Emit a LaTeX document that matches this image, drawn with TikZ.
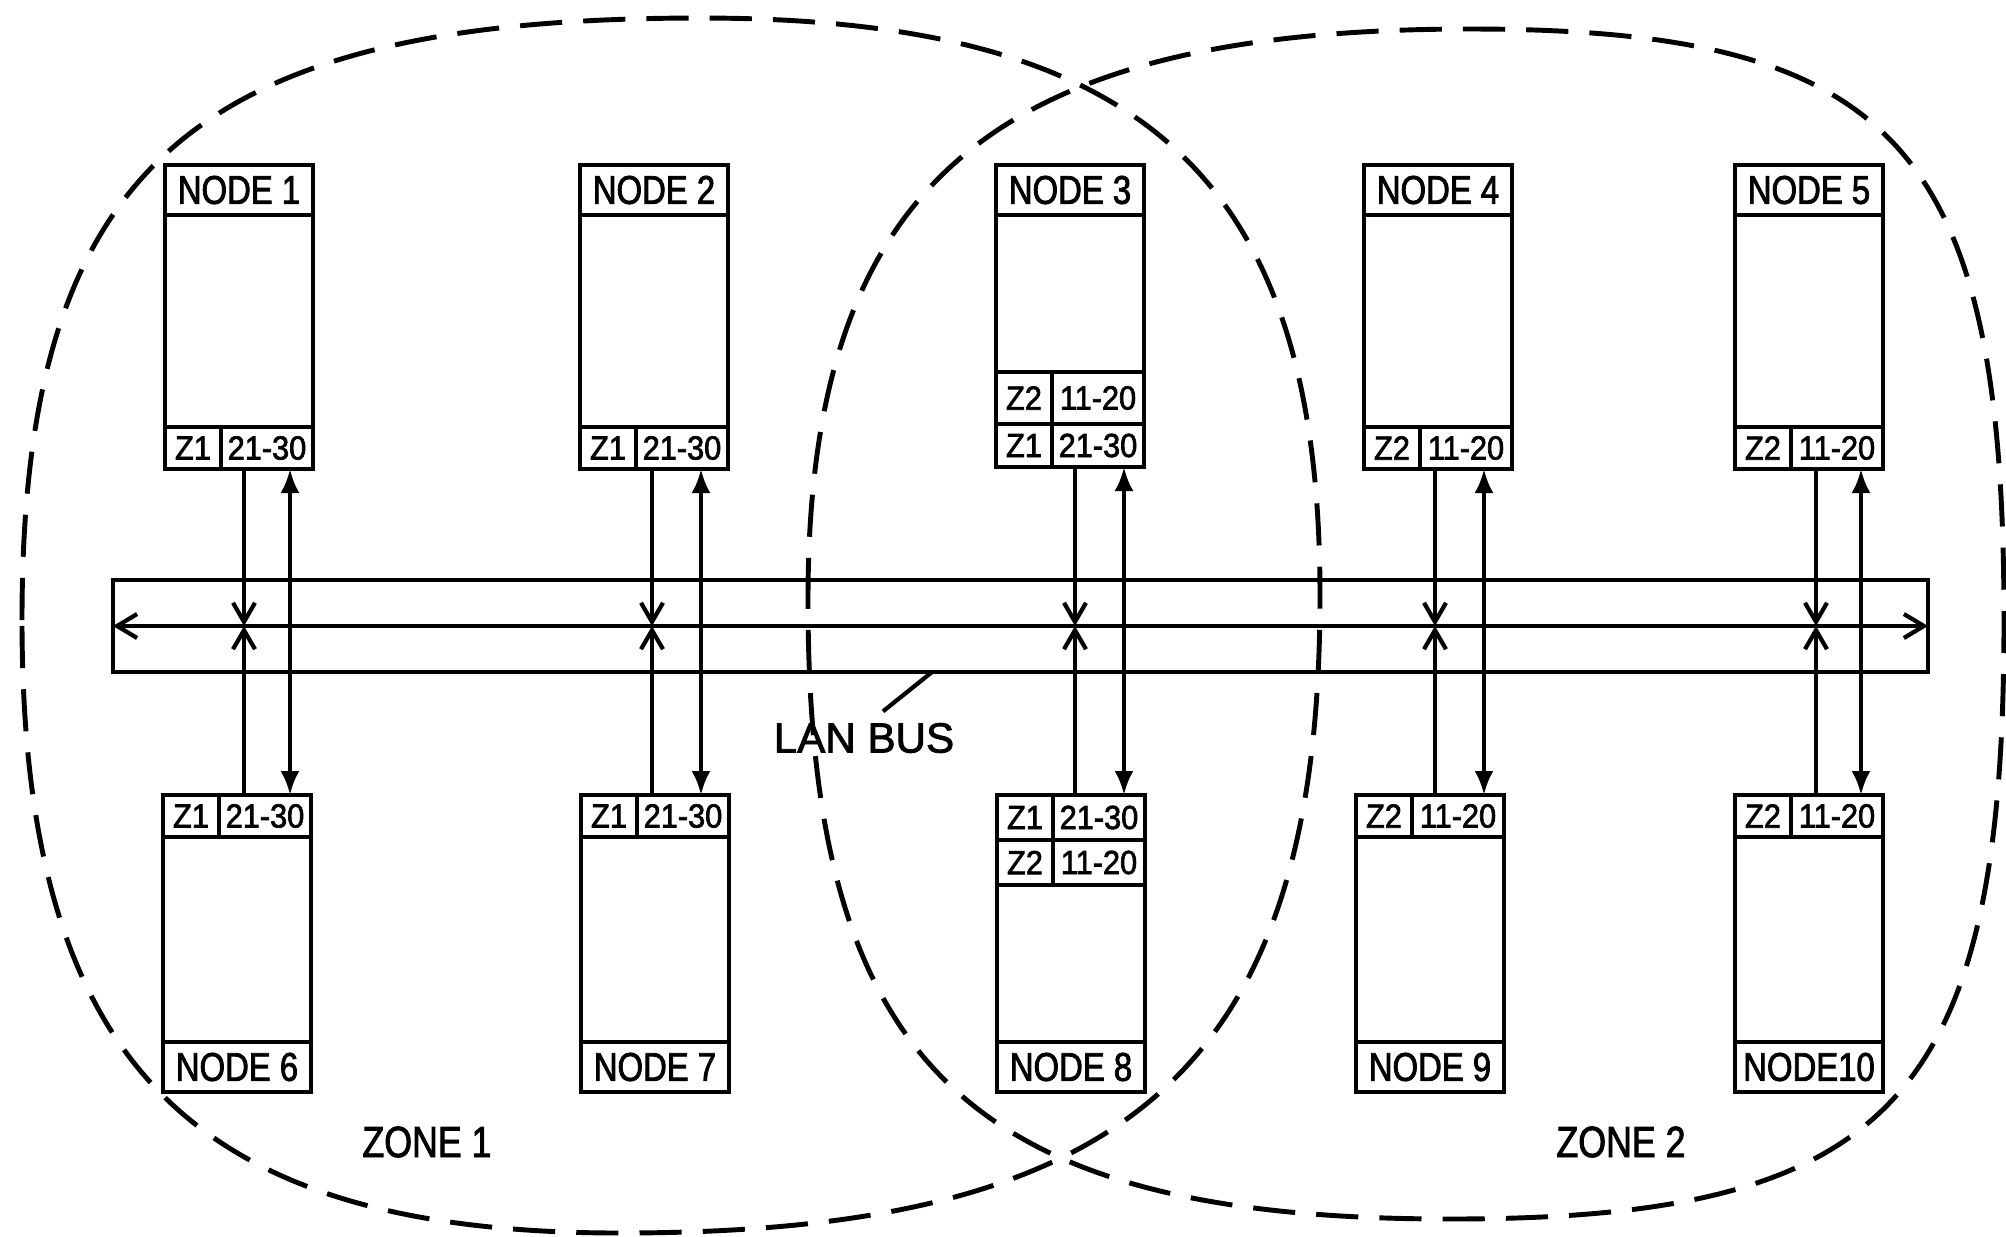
\documentclass[tikz,border=0pt]{standalone}
\usepackage{fontspec}
\setmainfont{Liberation Sans}[FakeBold=2]
\newfontfamily\narrowfont[FakeStretch=0.82, FakeBold=2]{Liberation Sans}
\newfontfamily\cellfont[FakeStretch=0.92, FakeBold=2]{Liberation Sans}
\usetikzlibrary{arrows.meta,positioning}

\begin{document}
\begin{tikzpicture}[
  x=0.1mm, y=-0.1mm,
  ttl/.style={draw, line width=1.4pt, minimum width=1.48cm, minimum height=0.5cm,
    inner sep=0pt, outer sep=0pt, anchor=north west,
    font=\narrowfont\fontsize{11.4}{13}\selectfont},
  bodybox/.style={draw, line width=1.4pt, minimum width=1.48cm, inner sep=0pt,
    outer sep=0pt, anchor=north west},
  zc/.style={draw, line width=1.4pt, minimum width=0.56cm, minimum height=0.42cm,
    inner sep=0pt, outer sep=0pt, anchor=north west,
    font=\cellfont\fontsize{9.5}{11}\selectfont},
  rc/.style={zc, minimum width=0.92cm},
  lbl/.style={inner sep=0pt, font=\narrowfont\fontsize{12.4}{14}\selectfont},
  zone/.style={line width=1.4pt, dash pattern=on 12pt off 6pt},
  outarr/.style={line width=1.2pt, -{Straight Barb[length=0.19cm,width=0.22cm]}},
  inarr/.style={line width=1.2pt,
    {Latex[length=0.24cm,width=0.19cm]}-{Latex[length=0.24cm,width=0.19cm]}},
]
  \useasboundingbox (0,0) rectangle (2006,1236);

  % Zone 1
  \draw[zone] (22,620) .. controls (22,168) and (192,18) .. (700,18)
    .. controls (1146,18) and (1320,180) .. (1320,595)
    .. controls (1320,1064) and (1134,1233) .. (620,1233)
    .. controls (189,1233) and (22,1061) .. cycle;
  % Zone 2
  \draw[zone] (808,600) .. controls (808,186) and (990,29) .. (1470,29)
    .. controls (1897,29) and (2004,147) .. (2004,620)
    .. controls (2004,1099) and (1893,1219) .. (1450,1219)
    .. controls (968,1219) and (808,1064) .. cycle;

  % Top nodes (one table row)
  \foreach \x/\n/\z/\r in {165/1/Z1/21-30, 580/2/Z1/21-30,
                           1364/4/Z2/11-20, 1735/5/Z2/11-20} {
    \node[ttl] (t\n) at (\x,165) {NODE \n};
    \node[bodybox, minimum height=2.12cm] (b\n) at (t\n.south west) {};
    \node[zc] (z\n) at (b\n.south west) {\z};
    \node[rc] (r\n) at (z\n.north east) {\r};
  }
  % Node 3 (two table rows)
  \node[ttl] (t3) at (996,165) {NODE 3};
  \node[bodybox, minimum height=1.57cm] (b3) at (t3.south west) {};
  \node[zc, minimum height=0.52cm] (z3b) at (b3.south west) {Z2};
  \node[rc, minimum height=0.52cm] (r3b) at (z3b.north east) {11-20};
  \node[zc, minimum height=0.43cm] (z3) at (z3b.south west) {Z1};
  \node[rc, minimum height=0.43cm] (r3) at (z3.north east) {21-30};

  % Bottom nodes (one table row)
  \foreach \x/\n/\z/\r/\s in {163/6/Z1/21-30/NODE 6, 581/7/Z1/21-30/NODE 7,
                              1356/9/Z2/11-20/NODE 9, 1735/10/Z2/11-20/NODE10} {
    \node[zc] (z\n) at (\x,795) {\z};
    \node[rc] (r\n) at (z\n.north east) {\r};
    \node[bodybox, minimum height=2.05cm] (b\n) at (z\n.south west) {};
    \node[ttl] (t\n) at (b\n.south west) {\s};
  }
  % Node 8 (two table rows)
  \node[zc, minimum height=0.45cm] (z8) at (997,795) {Z1};
  \node[rc, minimum height=0.45cm] (r8) at (z8.north east) {21-30};
  \node[zc, minimum height=0.45cm] (z8b) at (z8.south west) {Z2};
  \node[rc, minimum height=0.45cm] (r8b) at (z8b.north east) {11-20};
  \node[bodybox, minimum height=1.57cm] (b8) at (z8b.south west) {};
  \node[ttl] (t8) at (b8.south west) {NODE 8};

  % LAN bus
  \node[draw, line width=1.4pt, minimum width=18.15cm, minimum height=0.92cm,
    inner sep=0pt, outer sep=0pt, anchor=north west] (bus) at (113,580) {};
  \draw[line width=1.2pt, {Straight Barb[length=0.2cm,width=0.24cm]}-{Straight Barb[length=0.2cm,width=0.24cm]}]
    (bus.west) -- (bus.east);

  % Node to bus and bus to node
  \foreach \t/\b/\xl/\xr in {1/6/244/290, 2/7/652/701, 3/8/1075/1124,
                             4/9/1435/1484, 5/10/1816/1861} {
    \coordinate (l\t) at (\xl,626);
    \coordinate (i\t) at (\xr,626);
    \draw[outarr] (r\t.south -| l\t) -- (l\t);
    \draw[outarr] (r\b.north -| l\t) -- (l\t);
    \draw[inarr] (r\t.south -| i\t) -- (r\b.north -| i\t);
  }

  % Labels
  \node[lbl, font=\fontsize{12}{14}\selectfont] (lanbus) at (864,738) {LAN BUS};
  \coordinate (tap) at (932,672);
  \draw[line width=1.2pt] ([shift={(19,-11)}]lanbus.north) -- (tap);
  \node[lbl] (zn1) at (427,1142) {ZONE 1};
  \node[lbl] (zn2) at (1621,1142) {ZONE 2};
\end{tikzpicture}
\end{document}
